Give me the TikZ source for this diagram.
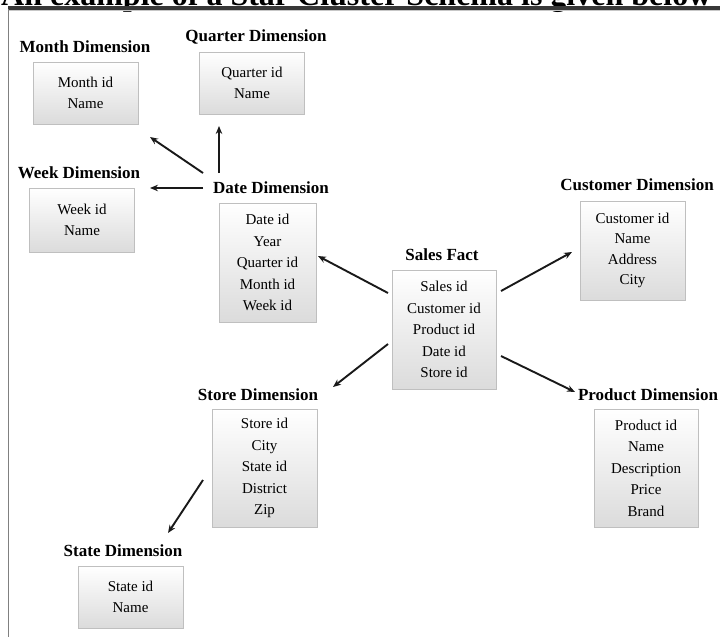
\documentclass[tikz,border=0pt]{standalone}
\usepackage{fontspec}
\setmainfont{Liberation Serif}
\usetikzlibrary{arrows.meta}
\begin{document}
\begin{tikzpicture}[x=1pt,y=-1pt,
  tbl/.style={draw=black!25, line width=0.8pt, top color=white, bottom color=black!14,
    inner sep=0pt, minimum width=105pt, align=center, font=\fontsize{15}{21.5}\selectfont},
  ttl/.style={font=\bfseries\fontsize{17}{20}\selectfont, inner sep=0pt},
  arr/.style={-{Stealth[length=8pt,width=6.5pt]}, line width=1.9pt, black!90}]
\useasboundingbox (0,0) rectangle (720,637);
\clip (0,0) rectangle (720,637);
% cut-off heading and page frame
\node[anchor=base west, inner sep=0pt, font=\bfseries\fontsize{32}{32}\selectfont] (title) at (1,5.5) {An example of a Star Cluster Schema is given below};
\fill[black!78] (8,5.5) rectangle (720,9.5);
\draw[black!22, line width=1pt] (8,10.8) -- (720,10.8);
\draw[black!50, line width=1.2pt] (8.5,9) -- (8.5,637);
% tables
\node[tbl, minimum height=62pt] (month) at (85.5,93) {Month id\\Name};
\node[tbl, minimum height=62pt] (quarter) at (252,83) {Quarter id\\Name};
\node[tbl, minimum height=64pt] (week) at (82,220) {Week id\\Name};
\node[tbl, minimum width=97pt, minimum height=119pt] (date) at (267.5,262.5) {Date id\\Year\\Quarter id\\Month id\\Week id};
\node[tbl, minimum width=104pt, minimum height=119pt] (sales) at (444,329.5) {Sales id\\Customer id\\Product id\\Date id\\Store id};
\node[tbl, minimum height=99pt, font=\fontsize{15}{20.5}\selectfont] (cust) at (632.5,250.5) {Customer id\\Name\\Address\\City};
\node[tbl, minimum height=118pt] (store) at (264.5,468) {Store id\\City\\State id\\District\\Zip};
\node[tbl, minimum width=104pt, minimum height=118pt] (prod) at (646,468) {Product id\\Name\\Description\\Price\\Brand};
\node[tbl, minimum height=62pt] (state) at (130.5,597) {State id\\Name};
% titles
\node[ttl] (monthL) at (85,47) {Month Dimension};
\node[ttl] (quarterL) at (256,37) {Quarter Dimension};
\node[ttl] (weekL) at (79,173) {Week Dimension};
\node[ttl] (dateL) at (271,188) {Date Dimension};
\node[ttl] (salesL) at (442,255) {Sales Fact};
\node[ttl] (custL) at (637,185) {Customer Dimension};
\node[ttl] (storeL) at (258,395) {Store Dimension};
\node[ttl] (prodL) at (648,395) {Product Dimension};
\node[ttl] (stateL) at (123,551) {State Dimension};
% connector ends
\coordinate (dm1) at (203,173); \coordinate (dm2) at (150,137);
\coordinate (dq1) at (219,173); \coordinate (dq2) at (219,126);
\coordinate (dw1) at (203,188); \coordinate (dw2) at (150,188);
\coordinate (sd1) at (388,293); \coordinate (sd2) at (318,256);
\coordinate (sc1) at (501,291); \coordinate (sc2) at (572,252);
\coordinate (ss1) at (388,344); \coordinate (ss2) at (333,387);
\coordinate (sp1) at (501,356); \coordinate (sp2) at (575,392);
\coordinate (st1) at (203,480); \coordinate (st2) at (168,533);
\draw[arr] (dm1) -- (dm2);
\draw[arr] (dq1) -- (dq2);
\draw[arr] (dw1) -- (dw2);
\draw[arr] (sd1) -- (sd2);
\draw[arr] (sc1) -- (sc2);
\draw[arr] (ss1) -- (ss2);
\draw[arr] (sp1) -- (sp2);
\draw[arr] (st1) -- (st2);
\end{tikzpicture}
\end{document}
